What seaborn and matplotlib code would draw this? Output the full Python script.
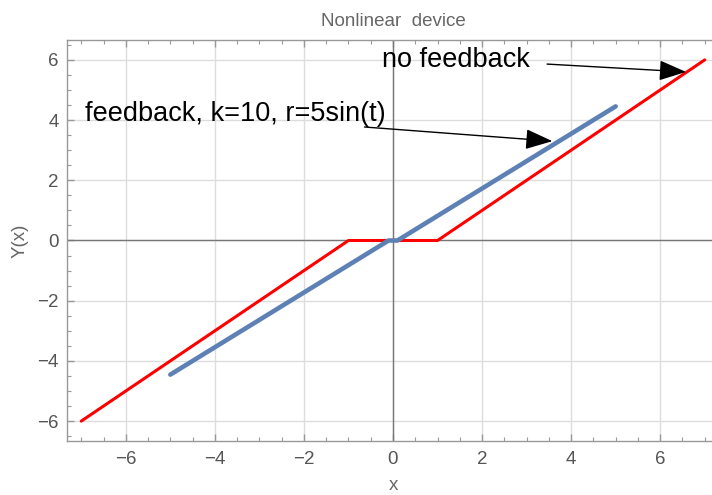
import matplotlib
matplotlib.use("Agg")
import matplotlib.pyplot as plt
import seaborn as sns
import numpy as np
from matplotlib.ticker import MultipleLocator

sns.set_theme(style="white")
plt.rcParams['font.family'] = ['Liberation Sans', 'DejaVu Sans']

# Data
red_x = [-7, -1, 1, 7]
red_y = [-6, 0, 0, 6]
blue_x = [-5, -0.1, 0.1, 5]
blue_y = [-4.455, 0, 0, 4.455]

title = "Nonlinear  device"
xlabel = "x"
ylabel = "Y(x)"
label_nofb = "no feedback"
label_fb = "feedback, k=10, r=5sin(t)"

fig = plt.figure(figsize=(7.12, 4.95), dpi=100)
ax = fig.add_axes([67/712, 1-441/495, (719-67)/712, (441-40)/495])

gray = "#666666"
framec = "#999999"

ax.axhline(0, color="#777777", lw=1.0, zorder=1)
ax.axvline(0, color="#777777", lw=1.0, zorder=1)

sns.lineplot(x=red_x, y=red_y, ax=ax, color="#ff0000", lw=2.2, sort=False, estimator=None, zorder=3)
sns.lineplot(x=blue_x, y=blue_y, ax=ax, color="#5e81b5", lw=3.3, sort=False, estimator=None, zorder=4)

ax.set_xlim(-7.32, 7.32)
ax.set_ylim(-6.66, 6.66)

ax.xaxis.set_major_locator(MultipleLocator(2))
ax.yaxis.set_major_locator(MultipleLocator(2))
ax.xaxis.set_minor_locator(MultipleLocator(0.5))
ax.yaxis.set_minor_locator(MultipleLocator(0.5))
ax.grid(True, which="major", color="#dddddd", lw=1.0, zorder=0)
ax.set_axisbelow(True)

ax.tick_params(which="both", direction="in", top=True, right=True, bottom=True, left=True,
               color=framec, labelcolor="#555555", labelsize=13.5)
ax.tick_params(which="major", length=5, width=1)
ax.tick_params(which="minor", length=3, width=0.8)
for s in ax.spines.values():
    s.set_color(framec)
    s.set_linewidth(1.0)

def fmt(v):
    v = int(round(v))
    return ("\u2212" + str(-v)) if v < 0 else str(v)
ticks = [-6, -4, -2, 0, 2, 4, 6]
ax.set_xticks(ticks)
ax.set_xticklabels([fmt(t) for t in ticks])
ax.set_yticks(ticks)
ax.set_yticklabels([fmt(t) for t in ticks])
ax.tick_params(axis="x", pad=7)
ax.tick_params(axis="y", pad=6)

ax.set_title(title, color=gray, fontsize=13.5, pad=10)
ax.set_xlabel(xlabel, color=gray, fontsize=13.5, labelpad=7)
ax.set_ylabel(ylabel, color=gray, fontsize=13.5, labelpad=6)

arrow = dict(arrowstyle="-|>,head_length=1.2,head_width=0.45", color="black", lw=1.0,
             mutation_scale=14, shrinkA=0, shrinkB=0)
ax.annotate("", xy=(6.58, 5.60), xytext=(3.46, 5.86), arrowprops=arrow, zorder=6)
ax.text(-0.24, 6.0, label_nofb, fontsize=19.5, color="black", va="center", ha="left", zorder=6)
ax.annotate("", xy=(3.58, 3.30), xytext=(-0.64, 3.77), arrowprops=arrow, zorder=6)
ax.text(-6.92, 4.2, label_fb, fontsize=19.5, color="black", va="center", ha="left", zorder=6)

fig.savefig("out.png", dpi=100)
